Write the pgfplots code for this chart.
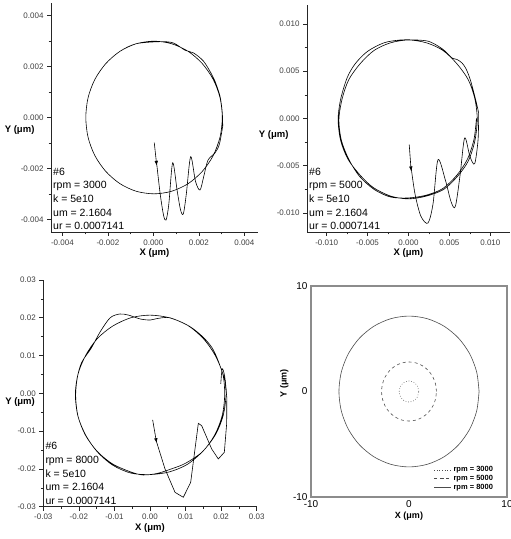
\documentclass[border=0pt]{standalone}
\usepackage{fontspec}
\setmainfont{Liberation Sans}
\usepackage{pgfplots}
\pgfplotsset{compat=1.18}
\usetikzlibrary{arrows.meta}

\pgfplotsset{
  orbit/.style={
    scale only axis, anchor=south west,
    axis lines=left, axis line style={-, black!85, line width=0.8pt},
    tick align=outside, minor tick num=1,
    major tick length=4pt, minor tick length=2.5pt,
    tick style={black!85, line width=0.6pt},
    scaled ticks=false,
    ticklabel style={font=\fontsize{8}{9}\selectfont, text=black!75},
    /pgf/number format/assume math mode=true,
    xlabel={\textbf{X (μm)}}, ylabel={\textbf{Y (μm)}},
    label style={font=\fontsize{9.5}{10}\selectfont},
    xlabel style={yshift=3pt},
    every axis plot/.append style={black, line width=0.6pt, no marks},
  },
  prec/.style={
    xticklabel style={/pgf/number format/fixed, /pgf/number format/fixed zerofill, /pgf/number format/precision=#1},
    yticklabel style={/pgf/number format/fixed, /pgf/number format/fixed zerofill, /pgf/number format/precision=#1},
  },
  arr/.style={black, line width=0.6pt, -{Latex[length=5pt,width=3.5pt]}},
}
\tikzset{info/.style={anchor=south west, align=left, inner sep=2pt,
  font=\fontsize{10.5}{13.6}\selectfont}}

\begin{document}
\begin{tikzpicture}
\useasboundingbox (0,0) rectangle (511pt,539pt);

% ---- rpm = 3000
\begin{axis}[orbit, prec=3, at={(51pt,307pt)}, width=207pt, height=229pt,
  xmin=-0.0045, xmax=0.0046, ymin=-0.0045, ymax=0.0045,
  xtick={-0.004,-0.002,0,0.002,0.004}, ytick={-0.004,-0.002,0,0.002,0.004},
  ylabel style={rotate=-90, anchor=east, at={(axis description cs:-0.063,0.445)}}]
\addplot[arr] coordinates {(0.00004,-0.00099) (0.00015,-0.00190)};
\addplot[smooth, tension=0.5] coordinates {
(0.00015,-0.00184) (0.00030,-0.00300) (0.00045,-0.00385) (0.00056,-0.00403)
(0.00068,-0.00340) (0.00085,-0.00178) (0.00105,-0.00290) (0.00120,-0.00365)
(0.00132,-0.00378) (0.00145,-0.00300) (0.00164,-0.00154) (0.00185,-0.00250)
(0.00205,-0.00285) (0.00222,-0.00230) (0.00240,-0.00168) (0.00271,-0.00139)
(0.00290,-0.00106) (0.00305,-0.00034)};
\addplot[smooth] coordinates {
(0.00305,-0.00034) (0.00303,0.00020) (0.00293,0.00084) (0.00270,0.00145)
(0.00255,0.00172) (0.00220,0.00222) (0.00176,0.00254) (0.00140,0.00264)
(0.00088,0.00293) (0.00030,0.00298) (-0.00075,0.00290) (-0.00147,0.00260)
(-0.00209,0.00212) (-0.00257,0.00150) (-0.00287,0.00078) (-0.00297,0.00000)
(-0.00287,-0.00078) (-0.00257,-0.00150) (-0.00209,-0.00212) (-0.00147,-0.00260)
(-0.00075,-0.00290) (0.00003,-0.00300) (0.00080,-0.00290) (0.00153,-0.00260)
(0.00215,-0.00212) (0.00263,-0.00150) (0.00293,-0.00078) (0.00303,0.00000)
(0.00293,0.00078) (0.00263,0.00150) (0.00215,0.00212) (0.00153,0.00260)
(0.00080,0.00290) (0.00003,0.00300) (-0.00075,0.00290) (-0.00147,0.00260)
(-0.00209,0.00212) (-0.00257,0.00150) (-0.00287,0.00078) (-0.00297,0.00000)
(-0.00287,-0.00078) (-0.00257,-0.00150) (-0.00209,-0.00212) (-0.00147,-0.00260)
(-0.00075,-0.00290) (0.00003,-0.00300) (0.00080,-0.00290) (0.00153,-0.00260)
(0.00215,-0.00212) (0.00263,-0.00150) (0.00293,-0.00078) (0.00303,-0.00020)};
\node[info] at (rel axis cs:0,0) {\#6\\rpm = 3000\\k = 5e10\\um = 2.1604\\ur = 0.0007141};
\end{axis}

% ---- rpm = 5000
\begin{axis}[orbit, prec=3, at={(307pt,307pt)}, width=203pt, height=227pt,
  xmin=-0.0124, xmax=0.0124, ymin=-0.012, ymax=0.012,
  xtick={-0.010,-0.005,0,0.005,0.010}, ytick={-0.010,-0.005,0,0.005,0.010},
  ylabel style={rotate=-90, anchor=east, at={(axis description cs:-0.074,0.427)}}]
\addplot[arr] coordinates {(0.00009,-0.00277) (0.00033,-0.00560)};
\addplot[smooth, tension=0.5] coordinates {
(0.00033,-0.00524) (0.00080,-0.00800) (0.00150,-0.01030) (0.00237,-0.01106)
(0.00300,-0.00900) (0.00360,-0.00436) (0.00450,-0.00650) (0.00520,-0.00880)
(0.00572,-0.00930) (0.00630,-0.00600) (0.00686,-0.00206) (0.00750,-0.00400)
(0.00808,-0.00478) (0.00850,-0.00224) (0.00857,0.00060)};
\addplot[smooth] coordinates {
(0.00857,0.00060) (0.00820,0.00200) (0.00755,0.00410) (0.00700,0.00530)
(0.00650,0.00590) (0.00590,0.00625) (0.00531,0.00640) (0.00450,0.00710)
(0.00367,0.00763) (0.00245,0.00816) (0.00100,0.00830) (-0.00100,0.00830)
(-0.00300,0.00800) (-0.00500,0.00710) (-0.00650,0.00580) (-0.00750,0.00430)
(-0.00830,0.00200) (-0.00860,-0.00010) (-0.00830,-0.00230) (-0.00740,-0.00430)
(-0.00590,-0.00600) (-0.00430,-0.00730) (-0.00220,-0.00820) (0.00000,-0.00850)
(0.00220,-0.00820) (0.00430,-0.00750) (0.00600,-0.00610) (0.00730,-0.00450)
(0.00810,-0.00240) (0.00840,-0.00010)
(0.00810,0.00210) (0.00730,0.00410) (0.00590,0.00580) (0.00420,0.00720)
(0.00220,0.00800) (0.00000,0.00830) (-0.00220,0.00800) (-0.00420,0.00720)
(-0.00590,0.00580) (-0.00730,0.00410) (-0.00810,0.00210) (-0.00850,-0.00010)
(-0.00820,-0.00230) (-0.00730,-0.00430) (-0.00600,-0.00610) (-0.00420,-0.00750)
(-0.00220,-0.00830) (0.00000,-0.00840) (0.00220,-0.00810) (0.00420,-0.00740)
(0.00590,-0.00600) (0.00720,-0.00430) (0.00800,-0.00220) (0.00830,0.00000)};
\node[info] at (rel axis cs:0,0) {\#6\\rpm = 5000\\k = 5e10\\um = 2.1604\\ur = 0.0007141};
\end{axis}

% ---- rpm = 8000
\begin{axis}[orbit, prec=2, at={(43.3pt,32.3pt)}, width=213.4pt, height=226.7pt,
  xmin=-0.03, xmax=0.03, ymin=-0.03, ymax=0.03,
  xtick={-0.03,-0.02,...,0.031}, ytick={-0.03,-0.02,...,0.031},
  ylabel style={rotate=-90, anchor=east, at={(axis description cs:-0.023,0.463)}}]
\addplot[arr] coordinates {(0.00075,-0.00704) (0.00188,-0.01320)};
\addplot[sharp plot] coordinates {
(0.00188,-0.01296) (0.00422,-0.02000) (0.00703,-0.02619) (0.00937,-0.02751)
(0.01144,-0.02354) (0.01359,-0.00794) (0.01453,-0.00855) (0.01734,-0.01471)
(0.01921,-0.01736) (0.02090,-0.01560) (0.02156,-0.00800) (0.02160,-0.00110)
(0.02110,0.00340)};
\addplot[smooth] coordinates {
(0.02110,0.00340) (0.01930,0.00830) (0.01750,0.01200) (0.01480,0.01500)
(0.01100,0.01780) (0.00560,0.02000) (0.00200,0.01980) (0.00000,0.01940)
(-0.00280,0.01970) (-0.00600,0.02070) (-0.00850,0.02100) (-0.01120,0.02000)
(-0.01400,0.01630) (-0.01650,0.01200) (-0.01920,0.00820) (-0.02050,0.00400)
(-0.02100,-0.00050) (-0.02030,-0.00590) (-0.01820,-0.01100) (-0.01480,-0.01540)
(-0.01050,-0.01870) (-0.00540,-0.02080) (-0.00200,-0.02160) (0.00200,-0.02120)
(0.00600,-0.02000) (0.01000,-0.01850) (0.01480,-0.01540) (0.01820,-0.01100)
(0.02030,-0.00590) (0.02100,-0.00050)
(0.02050,0.00500) (0.01830,0.01010) (0.01500,0.01450) (0.01060,0.01800)
(0.00550,0.02000) (0.00000,0.02070) (-0.00540,0.02000) (-0.01050,0.01780)
(-0.01480,0.01450) (-0.01800,0.01020) (-0.02020,0.00520) (-0.02090,-0.00050)
(-0.02020,-0.00620) (-0.01800,-0.01120) (-0.01480,-0.01550) (-0.01050,-0.01900)
(-0.00540,-0.02110) (0.00000,-0.02150) (0.00540,-0.02080) (0.01050,-0.01880)
(0.01500,-0.01520) (0.01850,-0.01080) (0.02060,-0.00580) (0.02140,-0.00020)
(0.02100,0.00450) (0.02030,0.00650) (0.01990,0.00250)};
\node[info] at (rel axis cs:0,0) {\#6\\rpm = 8000\\k = 5e10\\um = 2.1604\\ur = 0.0007141};
\end{axis}

% ---- orbits compared
\begin{axis}[scale only axis, anchor=south west, at={(311pt,42pt)},
  width=196pt, height=211pt,
  xmin=-10, xmax=10, ymin=-10, ymax=10,
  xtick={-10,0,10}, ytick={-10,0,10}, major tick length=0pt,
  axis line style={black!45, line width=1.2pt},
  ticklabel style={font=\fontsize{10}{11}\selectfont},
  /pgf/number format/assume math mode=true,
  xlabel={\textbf{X (μm)}}, ylabel={\textbf{Y (μm)}},
  label style={font=\fontsize{9}{10}\selectfont},
  xlabel style={at={(rel axis cs:0.5,0)}, anchor=north, yshift=-11pt},
  ylabel style={at={(axis description cs:-0.097,0.54)}, anchor=south},
  legend style={at={(rel axis cs:0.955,0.01)}, anchor=south east, draw=none,
    fill=none, font=\bfseries\fontsize{7.5}{8.5}\selectfont, row sep=-2pt},
  legend cell align=left,
  every axis plot/.append style={black!70, line width=0.6pt, no marks}]
\addplot[smooth, dotted] coordinates {
(1.000,0.000) (0.866,0.500) (0.500,0.866) (0.000,1.000) (-0.500,0.866)
(-0.866,0.500) (-1.000,0.000) (-0.866,-0.500) (-0.500,-0.866) (0.000,-1.000)
(0.500,-0.866) (0.866,-0.500) (1.000,0.000)};
\addlegendentry{rpm = 3000}
\addplot[smooth, dashed] coordinates {
(2.800,0.000) (2.705,0.725) (2.425,1.400) (1.980,1.980) (1.400,2.425)
(0.725,2.705) (0.000,2.800) (-0.725,2.705) (-1.400,2.425) (-1.980,1.980)
(-2.425,1.400) (-2.705,0.725) (-2.800,0.000) (-2.705,-0.725) (-2.425,-1.400)
(-1.980,-1.980) (-1.400,-2.425) (-0.725,-2.705) (0.000,-2.800) (0.725,-2.705)
(1.400,-2.425) (1.980,-1.980) (2.425,-1.400) (2.705,-0.725) (2.800,0.000)};
\addlegendentry{rpm = 5000}
\addplot[smooth] coordinates {
(7.150,0.000) (6.906,1.850) (6.192,3.575) (5.056,5.056) (3.575,6.192)
(1.850,6.906) (0.000,7.150) (-1.850,6.906) (-3.575,6.192) (-5.056,5.056)
(-6.192,3.575) (-6.906,1.850) (-7.150,0.000) (-6.906,-1.850) (-6.192,-3.575)
(-5.056,-5.056) (-3.575,-6.192) (-1.850,-6.906) (0.000,-7.150) (1.850,-6.906)
(3.575,-6.192) (5.056,-5.056) (6.192,-3.575) (6.906,-1.850) (7.150,0.000)};
\addlegendentry{rpm = 8000}
\end{axis}
\end{tikzpicture}
\end{document}
